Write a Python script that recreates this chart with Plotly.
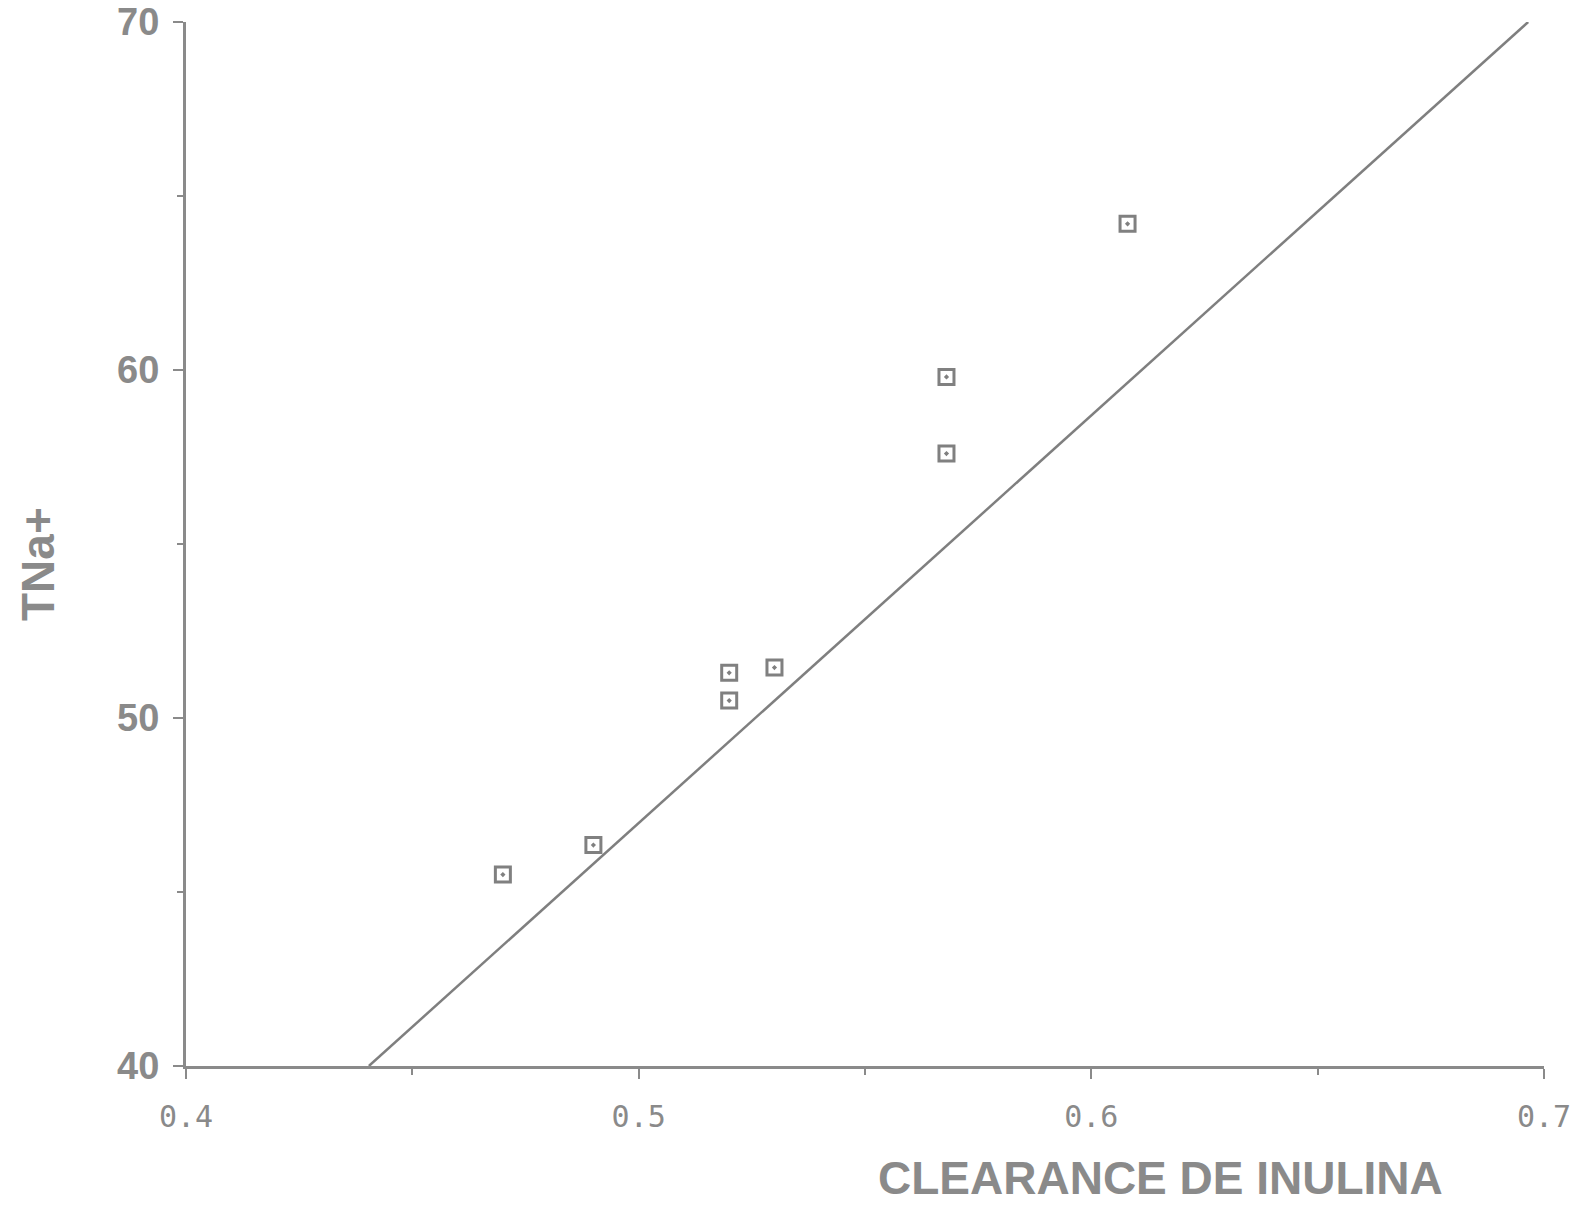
import plotly.graph_objects as go

# Data
clearance = [0.47, 0.49, 0.52, 0.52, 0.53, 0.568, 0.568, 0.608]
tna = [45.5, 46.35, 51.3, 50.5, 51.45, 59.8, 57.6, 64.2]
fit_x = [0.4404, 0.6965]
fit_y = [40.0, 70.0]

x_tickvals = [0.4, 0.5, 0.6, 0.7]
x_ticktext = ["0.4", "0.5", "0.6", "0.7"]
y_tickvals = [40, 50, 60, 70]
y_ticktext = ["40", "50", "60", "70"]

GRAY = "#8a8a8a"

W, H = 1579, 1208
ML, MR, MT, MB = 186, 35, 22, 142

fig = go.Figure()
fig.add_trace(go.Scatter(
    x=fit_x, y=fit_y, mode="lines",
    line=dict(color="#7f7f7f", width=2.5),
    showlegend=False, hoverinfo="skip",
))
fig.add_trace(go.Scatter(
    x=clearance, y=tna, mode="markers",
    marker=dict(symbol="square-open-dot", size=15, color="#808080",
                line=dict(width=3, color="#808080")),
    showlegend=False,
))

pw = W - ML - MR
ph = H - MT - MB

fig.update_layout(
    width=W, height=H,
    margin=dict(l=ML, r=MR, t=MT, b=MB, autoexpand=False),
    paper_bgcolor="white", plot_bgcolor="white",
    xaxis=dict(
        range=[0.4, 0.7], showgrid=False, zeroline=False, automargin=False,
        showline=True, linecolor=GRAY, linewidth=3,
        tickmode="array", tickvals=x_tickvals, ticktext=x_ticktext,
        ticks="outside", ticklen=10, tickwidth=2, tickcolor=GRAY,
        minor=dict(tickvals=[0.45, 0.55, 0.65], ticks="outside", ticklen=6, tickwidth=2, tickcolor=GRAY),
        tickfont=dict(family="DejaVu Sans Mono", size=30, color=GRAY),
        ticklabelstandoff=12,
    ),
    yaxis=dict(
        range=[40, 70], showgrid=False, zeroline=False, automargin=False,
        showline=True, linecolor=GRAY, linewidth=3,
        tickmode="array", tickvals=y_tickvals, ticktext=y_ticktext,
        ticks="outside", ticklen=10, tickwidth=2, tickcolor=GRAY,
        minor=dict(tickvals=[45, 55, 65], ticks="outside", ticklen=6, tickwidth=2, tickcolor=GRAY),
        tickfont=dict(family="Liberation Sans", size=38, color=GRAY, weight="bold"),
        ticklabelstandoff=6,
    ),
    annotations=[
        dict(text="<b>CLEARANCE DE INULINA</b>", showarrow=False,
             xref="paper", yref="paper",
             x=(1160 - ML) / pw, y=(H - MB - 1178) / ph,
             xanchor="center", yanchor="middle",
             font=dict(family="Liberation Sans", size=46, color=GRAY)),
        dict(text="<b>TNa+</b>", textangle=-90, showarrow=False,
             xref="paper", yref="paper",
             x=(38 - ML) / pw, y=(H - MB - 564) / ph,
             xanchor="center", yanchor="middle",
             font=dict(family="Liberation Sans", size=46, color=GRAY)),
    ],
)

fig.write_html("out.html")
